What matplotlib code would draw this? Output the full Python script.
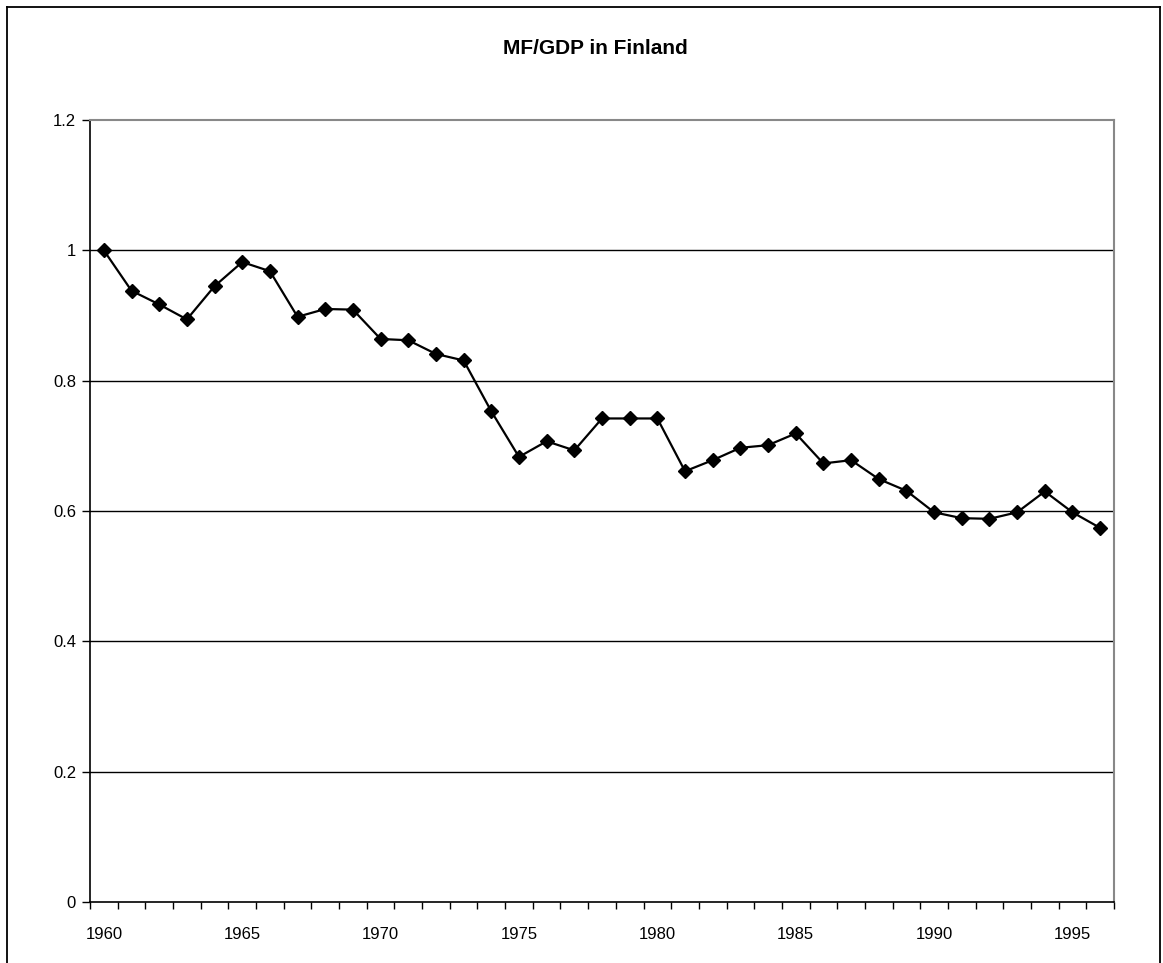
import matplotlib
matplotlib.use("Agg")
import matplotlib.pyplot as plt
from matplotlib.lines import Line2D
from matplotlib.ticker import FixedLocator, FixedFormatter

plt.rcParams['font.family'] = ['Liberation Sans', 'DejaVu Sans']

years = list(range(1960, 1997))
mf_gdp = [1.000, 0.938, 0.917, 0.894, 0.945, 0.982, 0.968, 0.898, 0.910, 0.909,
          0.864, 0.862, 0.841, 0.831, 0.753, 0.683, 0.707, 0.693, 0.742, 0.742,
          0.742, 0.661, 0.678, 0.697, 0.701, 0.719, 0.673, 0.678, 0.649, 0.631,
          0.598, 0.589, 0.588, 0.598, 0.630, 0.598, 0.574]
label_years = [1960, 1965, 1970, 1975, 1980, 1985, 1990, 1995]
y_ticks = [0, 0.2, 0.4, 0.6, 0.8, 1.0, 1.2]
y_labels = ['0', '0.2', '0.4', '0.6', '0.8', '1', '1.2']

fig = plt.figure(figsize=(11.63, 9.63), dpi=100)
ax = fig.add_axes([90 / 1163, 61 / 963, 1024 / 1163, 782 / 963])

pos = list(range(len(years)))
ax.plot(pos, mf_gdp, color='black', lw=1.6, marker='D', markersize=7.5,
        markerfacecolor='black', markeredgecolor='black', zorder=3)

ax.set_xlim(-0.5, len(years) - 0.5)
ax.set_ylim(0, 1.2)

# category axis: ticks between categories, labels every 5 years
ax.xaxis.set_major_locator(FixedLocator([years.index(y) for y in label_years]))
ax.xaxis.set_major_formatter(FixedFormatter([str(y) for y in label_years]))
ax.xaxis.set_minor_locator(FixedLocator([p - 0.5 for p in range(len(years) + 1)]))
ax.tick_params(axis='x', which='major', length=0, pad=18, labelsize=12)
ax.tick_params(axis='x', which='minor', length=5, width=1, direction='out', color='black')

ax.set_yticks(y_ticks)
ax.set_yticklabels(y_labels)
ax.tick_params(axis='y', length=6, width=1, direction='out', pad=4, labelsize=12)

for y in y_ticks[1:-1]:
    ax.axhline(y, color='black', lw=1, zorder=1)

ax.spines['left'].set_color('black')
ax.spines['bottom'].set_color('black')
ax.spines['left'].set_linewidth(1.2)
ax.spines['bottom'].set_linewidth(1.2)
ax.spines['top'].set_color('#888888')
ax.spines['right'].set_color('#888888')
ax.spines['top'].set_linewidth(1.5)
ax.spines['right'].set_linewidth(1.5)

fig.text(595 / 1163, 1 - 48 / 963, 'MF/GDP in Finland', ha='center', va='center',
         fontsize=15, fontweight='bold')

# chart frame
fx0, fy0, fx1 = 7 / 1163, 1 - 7 / 963, 1160 / 1163
for xs, ys in [([fx0, fx0], [0, fy0]), ([fx0, fx1], [fy0, fy0]), ([fx1, fx1], [fy0, 0])]:
    fig.add_artist(Line2D(xs, ys, color='black', lw=1.3, transform=fig.transFigure))

fig.savefig('out.png', dpi=100)
